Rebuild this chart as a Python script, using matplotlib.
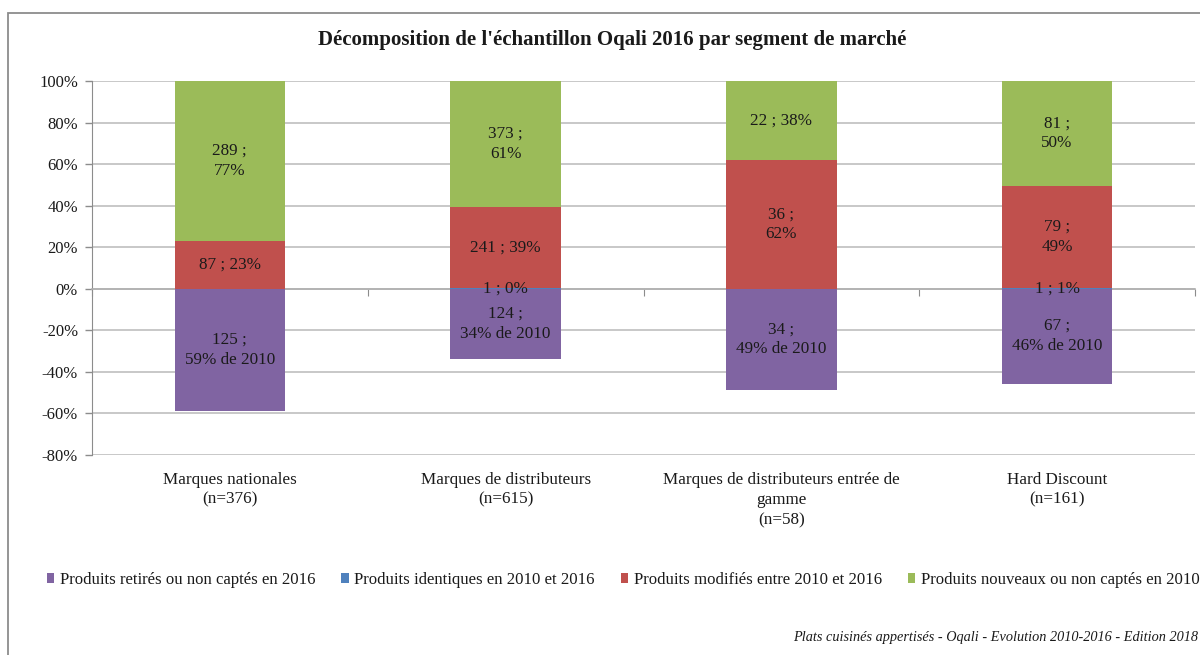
import matplotlib.pyplot as plt
from matplotlib.patches import Patch, Rectangle

# Données (en % du segment)
categories = [
    "Marques nationales\n(n=376)",
    "Marques de distributeurs\n(n=615)",
    "Marques de distributeurs entrée de\ngamme\n(n=58)",
    "Hard Discount\n(n=161)",
]
retires = [-59.0, -33.9, -48.6, -45.6]
identiques = [0.0, 0.2, 0.0, 0.6]
modifies = [23.1, 39.2, 62.1, 49.1]
nouveaux = [76.9, 60.6, 37.9, 50.3]

lab_retires = ["125 ;\n59% de 2010", "124 ;\n34% de 2010", "34 ;\n49% de 2010", "67 ;\n46% de 2010"]
lab_identiques = ["", "1 ; 0%", "", "1 ; 1%"]
lab_modifies = ["87 ; 23%", "241 ; 39%", "36 ;\n62%", "79 ;\n49%"]
lab_nouveaux = ["289 ;\n77%", "373 ;\n61%", "22 ; 38%", "81 ;\n50%"]

series_names = [
    "Produits retirés ou non captés en 2016",
    "Produits identiques en 2010 et 2016",
    "Produits modifiés entre 2010 et 2016",
    "Produits nouveaux ou non captés en 2010",
]
colors = ["#8064A2", "#4F81BD", "#C0504D", "#9BBB59"]
yticks = [-80, -60, -40, -20, 0, 20, 40, 60, 80, 100]

plt.rcParams["font.family"] = ["Liberation Serif", "DejaVu Serif"]
txt_col = "#1a1a1a"
grid_col = "#BFBFBF"

fig = plt.figure(figsize=(12, 6.55), dpi=100)
W, H = 1200, 655

# cadre du graphique (coupé à droite et en bas)
fig.patches.append(Rectangle((8 / W, -0.1), 1.2, 1 - 13 / H + 0.1, transform=fig.transFigure,
                             fill=False, edgecolor="#8C8C8C", linewidth=1.3))

ax = fig.add_axes([92 / W, 1 - 455 / H, 1103 / W, (455 - 81) / H])

x = list(range(len(categories)))
w = 0.4
bottom_mod = identiques
bottom_nouv = [a + b for a, b in zip(identiques, modifies)]

b_ret = ax.bar(x, retires, w, color=colors[0], zorder=3)
b_id = ax.bar(x, identiques, w, color=colors[1], zorder=3)
b_mod = ax.bar(x, modifies, w, bottom=bottom_mod, color=colors[2], zorder=3)
b_nouv = ax.bar(x, nouveaux, w, bottom=bottom_nouv, color=colors[3], zorder=3)

for cont, labs in [(b_ret, lab_retires), (b_id, lab_identiques),
                   (b_mod, lab_modifies), (b_nouv, lab_nouveaux)]:
    ax.bar_label(cont, labels=labs, label_type="center", fontsize=12.3,
                 color=txt_col, linespacing=1.35, zorder=5)

ax.set_xlim(-0.5, 3.5)
ax.set_ylim(-80, 100)
ax.set_yticks(yticks)
ax.set_yticklabels([f"{v}%" for v in yticks], fontsize=12, color=txt_col)
ax.yaxis.grid(True, color=grid_col, linewidth=1.2, zorder=0)
ax.tick_params(axis="y", length=5, color="#8C8C8C", width=1, pad=5)

for s in ["top", "right"]:
    ax.spines[s].set_visible(False)
ax.spines["left"].set_color("#8C8C8C")
ax.spines["bottom"].set_position(("data", 0))
ax.spines["bottom"].set_color("#B0B0B0")
ax.spines["bottom"].set_linewidth(1.2)
ax.set_xticks([-0.5, 0.5, 1.5, 2.5, 3.5])
ax.set_xticklabels([])
ax.tick_params(axis="x", length=5, color="#8C8C8C", direction="out")

for i, c in enumerate(categories):
    ax.annotate(c, xy=(i, -80), xytext=(0, -12), textcoords="offset points",
                ha="center", va="top", fontsize=12.3, color=txt_col, linespacing=1.35)

fig.text(612 / W, 1 - 40 / H, "Décomposition de l'échantillon Oqali 2016 par segment de marché",
         ha="center", va="center", fontsize=15, fontweight="bold", color=txt_col)

handles = [Patch(facecolor=c) for c in colors]
fig.legend(handles, series_names, loc="center left", bbox_to_anchor=(47 / W, 1 - 580 / H),
           ncol=4, frameon=False, fontsize=12.1, handlelength=0.42, handleheight=0.5,
           handletextpad=0.35, columnspacing=1.55, borderpad=0, borderaxespad=0,
           labelcolor=txt_col)

fig.text(1198 / W, 1 - 637 / H,
         "Plats cuisinés appertisés - Oqali - Evolution 2010-2016 - Edition 2018",
         ha="right", va="center", fontsize=10.3, style="italic", color=txt_col)

fig.savefig("out.png", dpi=100)
